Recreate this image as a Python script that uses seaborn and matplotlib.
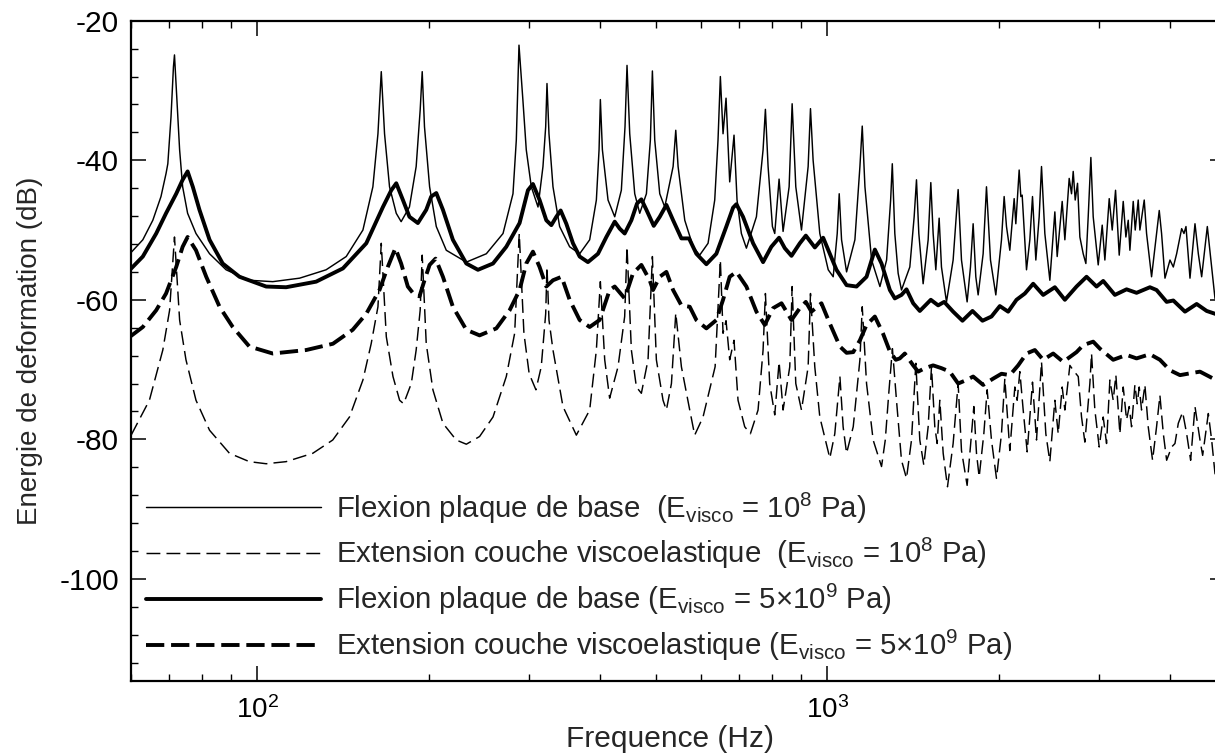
import matplotlib
matplotlib.use("Agg")
import matplotlib.pyplot as plt
import matplotlib.ticker as mticker
import pandas as pd
import seaborn as sns

# ---------------- data ----------------
# Flexion plaque de base (E_visco = 1e8 Pa) - thin solid
flex_1e8_f = [59.8, 63.0, 65.6, 67.8, 69.2, 69.7, 70.6, 71.3, 71.6, 72.3, 73.1, 74.0, 75.5, 78.1, 82.5, 88.2,
              96.9, 106.5, 118.7, 132.1, 143.3, 153.3, 159.6, 162.9, 165.1, 167.3, 170.7, 175.4, 178.9, 185.0,
              190.1, 193.2, 194.8, 196.6, 200.7, 206.2, 214.7, 232.8, 252.4, 270.0, 281.1, 284.9, 288.0,
              292.6, 296.6, 302.7, 311.0, 317.3, 320.8, 322.5, 325.1, 330.4, 339.4, 353.4, 368.0, 383.2, 393.7,
              398.0, 400.1, 403.4, 412.7, 424.0, 435.5, 442.0, 445.6, 450.5, 459.7, 469.1, 481.9, 489.7, 493.7,
              498.4, 508.6, 519.0, 536.8, 542.6, 547.7, 562.7, 582.0, 597.6, 618.2, 635.1, 643.6, 649.7, 656.8,
              664.8, 674.7, 686.6, 695.0, 707.3, 721.8, 751.6, 772.1, 779.4, 787.9, 801.8, 809.4, 823.7, 837.1,
              857.8, 868.3, 881.2, 901.7, 926.3, 935.1, 945.1, 971.0, 1004.6, 1025.0, 1041.8, 1050.2, 1060.2,
              1081.9, 1118.9, 1141.8, 1152.6, 1165.2, 1197.0, 1238.0, 1271.8, 1292.7, 1301.4,
              1314.7, 1332.5, 1350.6, 1396.9, 1421.6, 1435.0, 1448.6, 1474.1, 1504.3, 1520.5, 1534.9, 1551.6,
              1572.6, 1587.4, 1619.9, 1664.0, 1698.0, 1721.1, 1760.8, 1784.7, 1804.1, 1823.7, 1840.9, 1878.5,
              1904.0, 1935.1, 1977.2, 2023.0, 2044.9, 2064.3, 2092.3, 2129.3, 2143.7, 2172.8, 2187.5, 2199.3,
              2238.2, 2268.5, 2293.1, 2324.2, 2355.7, 2378.1, 2410.3, 2459.6, 2509.8, 2533.5, 2585.3, 2613.4,
              2659.5, 2684.8, 2703.0, 2724.9, 2750.7, 2776.7, 2814.3, 2844.9, 2871.8, 2902.9, 2930.4, 2990.3,
              3039.0, 3071.9, 3126.3, 3164.4, 3207.3, 3255.2, 3308.3, 3344.2, 3375.9, 3398.7, 3444.7, 3472.6,
              3515.0, 3538.7, 3601.3, 3635.5, 3709.7, 3785.4, 3826.5, 3862.8, 3916.1, 3996.1, 4050.3, 4105.2,
              4189.0, 4228.7, 4263.0, 4332.5, 4421.0, 4481.0, 4541.8, 4646.8, 4729.0, 4793.1, 4900.0]
flex_1e8_db = [-53.4, -51.4, -48.6, -45.2, -41.9, -40.5, -33.8, -26.6, -24.9, -31.4, -38.5, -43.8, -47.6, -50.5,
               -53.4, -55.7, -57.2, -57.4, -56.9, -55.7, -53.8, -50.0, -43.8, -36.2, -27.3, -36.2, -43.8, -47.6,
               -48.8, -46.7, -40.9, -32.8, -27.3, -35.2, -43.8, -49.5, -52.9, -54.6, -53.4, -50.5, -44.8, -37.1,
               -23.5,
               -31.4, -38.5, -43.8, -46.7, -40.9, -35.2, -29.0, -36.2, -43.8, -49.5, -52.4, -53.4, -51.4, -45.7,
               -38.5, -31.3, -38.5, -45.7, -48.1, -44.3, -35.2, -26.4, -36.2, -44.8, -47.6, -44.8, -37.1, -27.2,
               -37.1, -44.8, -46.7, -40.9, -35.7, -40.9, -48.6, -52.4, -53.6, -51.9, -45.7, -37.1, -28.0, -36.2,
               -31.1, -43.1, -36.4, -45.7, -50.5, -52.6, -48.1, -38.5, -32.7, -40.9, -49.5, -50.5, -42.7, -50.2,
               -43.8, -31.9, -43.8, -50.0, -40.9, -32.6, -40.0, -50.5, -55.7, -56.7, -50.5, -44.8, -51.4,
               -56.0, -51.4, -40.9, -35.1, -43.8, -54.3, -58.1, -54.3, -45.7, -40.5,
               -50.5, -56.2, -58.6, -55.3, -48.1, -42.8, -50.5, -57.7, -51.4, -43.2, -50.5, -55.7,
               -48.3, -55.3, -60.3, -54.3, -44.2, -54.3, -60.3, -55.3, -49.1, -56.7, -59.3, -53.4,
               -43.8, -54.3, -59.3, -51.4, -45.2, -49.5, -52.9, -45.5, -49.1, -41.4, -45.2, -45.0,
               -55.7, -51.4, -45.2, -54.3, -48.1, -40.9, -50.5, -57.2, -47.4, -53.8, -45.9, -51.4,
               -42.6, -44.8, -41.6, -45.7, -43.3, -51.0, -53.4, -54.8, -48.1, -39.6, -48.1, -55.0,
               -49.3, -54.3, -45.5, -50.0, -44.3, -53.6, -45.9, -51.0, -48.6, -52.9, -45.9, -50.0,
               -45.7, -50.0, -45.7, -50.5, -56.7, -50.5, -47.2, -50.5, -56.9, -54.3, -55.3, -53.4,
               -49.8, -50.5, -49.5, -56.9, -49.1, -53.4, -56.7, -49.5, -55.3, -59.8, -61.0]

# Extension couche viscoelastique (E_visco = 1e8 Pa) - thin dashed
ext_1e8_f = [60.1, 64.7, 68.3, 70.2, 71.6, 73.1, 75.0, 78.1, 82.5, 89.4, 96.9, 103.7, 112.4, 125.2, 135.7, 145.2,
             153.3, 158.5, 162.9, 165.1, 168.5, 173.1, 177.8, 180.7, 186.4, 190.1, 193.2, 194.8, 198.0, 203.4,
             211.8, 223.5, 232.8, 245.6, 259.3, 273.6, 283.0, 288.3, 293.8, 300.1, 308.4, 315.1, 320.8, 322.5,
             325.1, 330.4, 344.0, 363.1, 383.2, 393.7, 400.1, 407.2, 415.4, 429.7, 441.4, 445.6, 453.5, 462.8,
             472.2, 485.1, 493.7, 501.7, 515.4, 522.4, 533.2, 542.6, 555.1, 574.1, 585.7, 605.8, 636.1, 649.7,
             656.8, 664.8, 674.7, 686.6, 697.8, 716.9, 733.5, 756.6, 772.1, 779.4, 793.0, 809.4, 823.7, 837.1,
             860.0, 868.3, 881.2, 901.7, 926.3, 935.1, 951.5, 971.0, 1011.1, 1031.6, 1053.2, 1066.9, 1081.9,
             1111.4, 1141.8, 1152.6, 1172.8, 1204.5, 1246.0, 1265.0, 1283.0, 1302.0, 1323.6, 1350.6, 1378.2,
             1406.4, 1431.3, 1454.4, 1478.1, 1504.3, 1524.6, 1545.3, 1560.0, 1576.9, 1598.4, 1626.5, 1664.0,
             1698.0, 1721.1, 1760.8, 1792.1, 1809.2, 1828.7, 1848.5, 1883.7, 1909.3, 1942.8, 1982.5, 2023.0,
             2050.5, 2092.3, 2135.1, 2155.4, 2178.8, 2208.4, 2244.4, 2293.1, 2330.5, 2378.1, 2420.0, 2459.6,
             2509.8, 2544.0, 2585.3, 2613.4, 2666.8, 2703.0, 2758.6, 2795.4, 2833.4, 2891.2, 2910.7, 2950.2,
             3002.3, 3051.4, 3092.7, 3134.7, 3177.1, 3211.6, 3263.9, 3308.3, 3353.3, 3389.6, 3421.7, 3467.9,
             3500.9, 3529.3, 3562.7, 3611.1, 3660.0, 3724.6, 3785.4, 3836.9, 3890.3, 3942.6, 4023.1, 4077.6,
             4132.7, 4205.9, 4274.5, 4344.1, 4421.0, 4511.3, 4560.1, 4665.7, 4729.0, 4793.1, 4900.0]
ext_1e8_db = [-79.4, -74.4, -67.2, -61.5, -51.0, -62.9, -68.6, -74.4, -78.7, -82.0, -83.2, -83.5, -83.2, -82.0,
              -80.1, -76.8, -71.5, -66.3, -61.0, -51.9, -65.3, -71.0, -74.4, -74.9, -72.0, -67.2, -61.5, -53.6,
              -66.3, -72.9, -77.7, -80.1, -80.7, -79.6, -76.8, -71.0, -64.8, -50.5, -64.8, -70.6, -72.9, -69.6,
              -62.0, -55.3, -62.9, -67.2, -75.3, -79.4, -75.8, -67.2, -57.4, -68.6, -74.1, -69.6, -62.4, -52.4,
              -67.2, -72.5, -73.4, -68.6, -53.8, -68.6, -74.4, -75.8, -72.0, -61.9, -69.6, -75.8, -79.4, -76.8,
              -69.6, -54.3, -64.8, -63.0, -68.6, -65.8, -74.4, -78.2, -79.2, -75.8, -67.2, -59.1, -72.0, -76.5,
              -68.9, -75.8, -69.6, -58.1, -72.0, -75.8, -69.6, -59.1, -69.6, -76.8, -82.7, -79.2, -71.0, -78.2,
              -82.0, -78.2, -68.6, -61.0, -72.0, -80.1, -83.9, -80.1, -73.4, -67.0, -74.4, -83.0, -85.6,
              -80.1, -69.1, -80.1, -83.7, -78.2, -69.6, -78.2, -80.6, -74.4, -82.0, -86.8, -80.6,
              -72.0, -81.6, -86.6, -79.2, -75.3, -82.0, -85.4, -79.2, -72.9, -80.1, -85.6, -79.2,
              -71.3, -81.6, -72.5, -74.4, -70.3, -75.8, -81.8, -71.8, -80.1, -68.9, -79.2, -83.2,
              -74.4, -79.2, -72.5, -75.8, -69.4, -70.1, -71.0, -76.8, -80.4, -72.0, -67.7, -75.8,
              -81.1, -76.8, -80.6, -71.5, -74.4, -70.8, -79.2, -72.5, -77.2, -75.3, -78.2, -72.2,
              -74.9, -72.5, -75.8, -72.2, -78.2, -83.0, -78.2, -73.7, -79.2, -83.0, -81.1, -80.6,
              -77.7, -76.1, -79.2, -83.0, -75.3, -80.1, -82.3, -76.3, -80.1, -84.9, -86.0]

# Flexion plaque de base (E_visco = 5e9 Pa) - thick solid
flex_5e9_f = [59.8, 63.0, 66.5, 69.2, 72.1, 74.0, 75.5, 77.1, 79.2, 82.5, 87.0, 93.1, 103.7, 112.4, 126.9, 141.4,
              155.4, 166.2, 171.9, 175.4, 180.2, 185.0, 191.4, 198.0, 202.0, 206.2, 211.8, 220.5, 232.8, 244.0,
              259.3, 273.6, 288.7, 298.6, 304.7, 313.0, 321.6, 328.2, 334.9, 340.8, 348.7, 358.2, 368.0, 380.5,
              396.3, 409.9, 424.0, 432.6, 441.4, 453.5, 464.0, 472.2, 481.9, 496.4, 508.6, 522.4, 536.8, 555.1,
              572.5, 589.7, 614.0, 639.3, 665.6, 683.9, 693.2, 712.0, 741.6, 772.1, 798.3, 823.7, 842.9, 866.0,
              895.6, 917.7, 951.7, 984.2, 1011.1, 1038.6, 1081.9, 1126.3, 1172.8, 1212.9, 1246.0, 1288.6,
              1314.7, 1350.6, 1378.2, 1416.0, 1454.4, 1520.5, 1566.3, 1604.8, 1664.0, 1728.0, 1799.3, 1873.4,
              1942.8, 2009.4, 2078.3, 2149.5, 2223.2, 2299.3, 2394.2, 2509.8, 2613.4, 2739.6, 2852.6, 2970.2,
              3051.4, 3198.6, 3353.3, 3491.4, 3684.9, 3785.4, 3942.6, 4050.3, 4245.9, 4450.9, 4634.6, 4793.1,
              4900.0]
flex_5e9_db = [-55.7, -53.8, -50.5, -47.6, -44.8, -42.8, -41.6, -43.8, -47.1, -51.4, -54.8, -56.7, -58.1, -58.2,
               -57.4, -55.5, -51.9, -46.7, -44.3, -43.3, -45.7, -48.1, -49.0, -47.1, -45.2, -44.7, -47.1, -51.4,
               -54.8, -55.7, -54.8, -52.4, -49.0, -44.3, -43.4, -45.7, -48.6, -49.3, -48.1, -47.2, -49.1, -51.9,
               -53.8, -54.6, -53.4, -51.0, -48.8, -49.8, -50.5, -48.6, -46.2, -45.6, -47.1, -49.4, -48.1, -46.4,
               -48.6, -51.2, -51.2, -53.4, -54.9, -53.4, -49.5, -46.8, -46.3, -48.1, -51.9, -54.6, -52.4, -51.1,
               -52.6, -53.7, -51.9, -50.8, -52.5, -51.1, -53.4, -55.7, -57.9, -58.1, -56.7, -52.8, -54.8, -58.6,
               -59.8, -59.3, -58.5, -60.5, -61.6, -60.0, -60.8, -60.3, -61.7, -63.0, -61.6, -63.0,
               -62.4, -60.9, -61.7, -60.0, -59.1, -57.7, -59.3, -58.2, -60.0, -58.1, -56.7, -58.1,
               -57.3, -59.3, -58.5, -59.0, -58.2, -58.6, -60.3, -60.1, -61.7, -60.6, -61.6, -62.0, -62.3]

# Extension couche viscoelastique (E_visco = 5e9 Pa) - thick dashed
ext_5e9_f = [59.8, 63.0, 66.5, 69.2, 72.1, 74.0, 75.5, 78.1, 81.4, 85.9, 90.6, 96.9, 106.5, 121.9, 135.8, 147.1,
             155.4, 163.9, 169.5, 174.8, 178.9, 183.8, 188.8, 192.7, 196.6, 200.7, 205.6, 211.8, 220.5, 232.8,
             245.6, 262.8, 277.3, 288.7, 296.6, 304.7, 313.0, 321.6, 330.4, 342.1, 353.4, 368.0, 383.2, 398.8,
             415.4, 424.0, 441.4, 456.5, 472.2, 488.4, 495.0, 508.6, 522.4, 536.8, 555.1, 574.1, 589.7, 614.0,
             639.3, 656.8, 674.7, 693.2, 721.8, 751.6, 777.3, 804.0, 831.8, 848.8, 866.0, 895.6, 917.7, 938.7,
             977.4, 1011.1, 1053.2, 1081.9, 1111.4, 1141.8, 1172.8, 1212.9, 1252.9, 1290.0, 1320.0, 1341.5,
             1368.9, 1416.0, 1444.7, 1484.5, 1534.9, 1587.4, 1641.6, 1698.0, 1756.1, 1804.1, 1878.5, 1956.1,
             2023.0, 2092.3, 2164.0, 2238.2, 2314.8, 2394.2, 2492.8, 2595.8, 2739.6, 2814.3, 2930.4, 3010.5,
             3177.1, 3353.3, 3491.4, 3684.9, 3836.9, 3996.1, 4160.9, 4361.8, 4511.3, 4760.9, 4900.0]
ext_5e9_db = [-65.3, -63.9, -61.5, -59.1, -55.3, -52.4, -51.0, -52.9, -56.7, -61.0, -63.9, -66.7, -67.7, -67.2,
              -66.3, -64.3, -62.0, -58.6, -55.3, -52.6, -54.8, -58.1, -59.3, -59.5, -57.2, -55.0, -54.1, -56.7,
              -61.0, -64.3, -65.1, -64.1, -61.5, -58.6, -54.8, -53.1, -55.3, -58.1, -57.2, -56.7, -60.0, -62.9,
              -63.9, -62.9, -58.6, -58.1, -59.8, -56.2, -55.0, -57.2, -58.6, -56.7, -56.0, -58.6, -60.8, -61.0,
              -62.9, -64.1, -62.9, -60.0, -56.7, -56.0, -58.1, -61.7, -63.6, -61.2, -60.5, -61.7, -62.9, -61.2,
              -60.3, -61.7, -60.5, -63.4, -66.7, -67.6, -67.5, -65.8, -63.6, -62.4, -64.8, -67.5, -68.6, -68.4,
              -67.7, -69.4, -70.3, -69.8, -69.4, -69.8, -70.3, -72.0, -71.5, -71.0, -72.2, -71.3,
              -70.6, -70.8, -69.4, -67.7, -67.2, -68.6, -67.7, -68.9, -67.5, -66.5, -66.0, -67.0,
              -68.6, -67.9, -68.4, -67.8, -68.6, -70.1, -70.8, -70.5, -70.3, -71.3, -71.6]

legend_labels = [
    "Flexion plaque de base  ($\\mathrm{E}_{\\mathrm{visco}}$ = 10$^{8}$ Pa)",
    "Extension couche viscoelastique  ($\\mathrm{E}_{\\mathrm{visco}}$ = 10$^{8}$ Pa)",
    "Flexion plaque de base ($\\mathrm{E}_{\\mathrm{visco}}$ = 5\u00d710$^{9}$ Pa)",
    "Extension couche viscoelastique ($\\mathrm{E}_{\\mathrm{visco}}$ = 5\u00d710$^{9}$ Pa)",
]
y_tick_values = [-100, -80, -60, -40, -20]
y_tick_labels = ["-100", "-80", "-60", "-40", "-20"]
x_tick_values = [100, 1000]
x_tick_labels = ["10$^{2}$", "10$^{3}$"]
x_label = "Frequence (Hz)"
y_label = "Energie de deformation (dB)"

# ---------------- styling ----------------
sns.set_style("ticks")
plt.rcParams['font.family'] = ['Liberation Sans', 'DejaVu Sans']
plt.rcParams['mathtext.fontset'] = 'custom'
plt.rcParams['mathtext.rm'] = 'Liberation Sans'
plt.rcParams['mathtext.it'] = 'Liberation Sans:italic'
plt.rcParams['mathtext.bf'] = 'Liberation Sans:bold'
plt.rcParams['axes.unicode_minus'] = False

fig = plt.figure(figsize=(12.15, 7.54), dpi=100)
ax = fig.add_axes([0.1076, 0.0972, 0.901, 0.8753])

series = [
    (flex_1e8_f, flex_1e8_db, 1.05, None),
    (ext_1e8_f, ext_1e8_db, 1.05, (9.5, 4.2)),
    (flex_5e9_f, flex_5e9_db, 2.8, None),
    (ext_5e9_f, ext_5e9_db, 2.8, (4.7, 1.75)),
]
handles = []
for (f, db, lw, dash), lab in zip(series, legend_labels):
    df = pd.DataFrame({"f": f, "db": db})
    sns.lineplot(data=df, x="f", y="db", ax=ax, color="black", linewidth=lw,
                 estimator=None, sort=False, legend=False)
    line = ax.lines[-1]
    if dash is not None:
        line.set_dashes(dash)
        line.set_dash_capstyle("butt")
    line.set_solid_joinstyle("round")
    line.set_label(lab)
    handles.append(line)

ax.set_xscale("log")
ax.set_xlim(60, 5000)
ax.set_ylim(-114.6, -20)

ax.set_yticks(y_tick_values)
ax.set_yticklabels(y_tick_labels)
ax.yaxis.set_minor_locator(mticker.MultipleLocator(4))
ax.set_xticks(x_tick_values)
ax.set_xticklabels(x_tick_labels)
ax.xaxis.set_minor_locator(mticker.LogLocator(base=10, subs=[2, 3, 4, 5, 6, 7, 8, 9], numticks=20))
ax.xaxis.set_minor_formatter(mticker.NullFormatter())

ax.tick_params(which="both", direction="in", top=True, right=True, colors="black")
ax.tick_params(which="major", length=10.5, width=1.1)
ax.tick_params(which="minor", length=5, width=1.0)
ax.tick_params(axis="y", which="major", labelsize=21.5, pad=8.5)
ax.tick_params(axis="x", which="major", labelsize=20, pad=11)

for s in ax.spines.values():
    s.set_linewidth(1.6)
    s.set_color("black")

ax.set_xlabel(x_label, fontsize=21.5)
ax.set_ylabel(y_label, fontsize=20)
ax.xaxis.set_label_coords(0.493, -0.067)
ax.yaxis.set_label_coords(-0.080, 0.50)

ax.legend(handles=handles, labels=legend_labels, loc="center left",
          bbox_to_anchor=(0.0135, 0.1575), frameon=False, fontsize=21.2,
          handlelength=5.97, handletextpad=0.51, labelspacing=0.36,
          borderpad=0, borderaxespad=0)

fig.savefig("out.png", dpi=100)
